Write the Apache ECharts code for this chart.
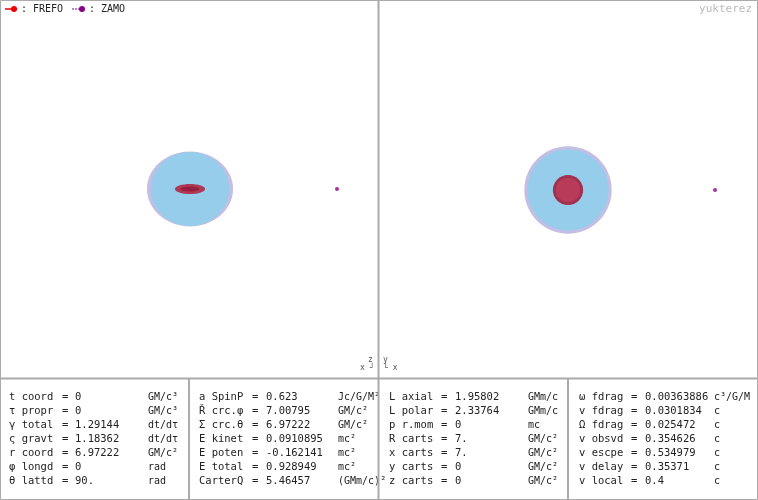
<!DOCTYPE html>
<html><head><meta charset="utf-8">
<script src="https://cdn.jsdelivr.net/npm/echarts@6/dist/echarts.min.js"></script>
<style>html,body{margin:0;padding:0;background:#fff}#c{width:758px;height:500px}</style>
</head><body><div id="c"></div>
<script>
// data
const zamoSide = [[7, 0]];   // x,z
const zamoTop = [[7, 0]];    // x,y
const shapesSide = [ // rx, ry, colour
  [2.05, 1.78, 'rgba(195,190,228,1)'],
  [1.86, 1.76, 'rgba(150,205,235,1)'],
  [0.72, 0.24, 'rgba(175,50,80,0.95)'],
  [0.45, 0.12, 'rgba(150,30,60,0.9)']
];
const shapesTop = [
  [2.08, 2.08, 'rgba(195,190,228,1)'],
  [1.93, 1.93, 'rgba(150,205,235,1)'],
  [0.72, 0.72, 'rgba(160,40,70,0.95)'],
  [0.58, 0.58, 'rgba(185,60,90,0.95)']
];
const col1L = ['t coord','τ propr','γ total','ς gravt','r coord','φ longd','θ lattd'];
const col1V = ['0','0','1.29144','1.18362','6.97222','0','90.'];
const col1U = ['GM/c³','GM/c³','dt/dτ','dt/dτ','GM/c²','rad','rad'];
const col2L = ['a SpinP','Ř crc.φ','Σ crc.θ','E kinet','E poten','E total','CarterQ'];
const col2V = ['0.623','7.00795','6.97222','0.0910895','-0.162141','0.928949','5.46457'];
const col2U = ['Jc/G/M²','GM/c²','GM/c²','mc²','mc²','mc²','(GMm/c)²'];
const col3L = ['L axial','L polar','p r.mom','R carts','x carts','y carts','z carts'];
const col3V = ['1.95802','2.33764','0','7.','7.','0','0'];
const col3U = ['GMm/c','GMm/c','mc','GM/c²','GM/c²','GM/c²','GM/c²'];
const col4L = ['ω fdrag','v fdrag','Ω fdrag','v obsvd','v escpe','v delay','v local'];
const col4V = ['0.00363886','0.0301834','0.025472','0.354626','0.534979','0.35371','0.4'];
const col4U = ['c³/G/M','c','c','c','c','c','c'];

const font = 'DejaVu Sans Mono';
const txtCol = '#222';
const g = [];
function addCol(x, ex, vx, ux, L, V, U){
  for(let i=0;i<7;i++){
    const y = 397 + i*14;
    g.push({type:'text', x:x, y:y, style:{text:L[i], font:'10.5px '+font, fill:txtCol, verticalAlign:'middle'}});
    g.push({type:'text', x:ex, y:y, style:{text:'=', font:'10.5px '+font, fill:txtCol, verticalAlign:'middle'}});
    g.push({type:'text', x:vx, y:y, style:{text:V[i], font:'10.5px '+font, fill:txtCol, verticalAlign:'middle'}});
    g.push({type:'text', x:ux, y:y, style:{text:U[i], font:'10px '+font, fill:txtCol, verticalAlign:'middle'}});
  }
}
addCol(9,62,75,148,col1L,col1V,col1U);
addCol(199,252,266,338,col2L,col2V,col2U);
addCol(389,441,455,528,col3L,col3V,col3U);
addCol(579,631,645,714,col4L,col4V,col4U);
const lc = '#aaa';
g.push({type:'rect', shape:{x:0.5,y:0.5,width:757,height:499}, style:{fill:'none',stroke:lc,lineWidth:1}});
g.push({type:'line', shape:{x1:378.5,y1:0,x2:378.5,y2:500}, style:{stroke:lc,lineWidth:2}});
g.push({type:'line', shape:{x1:0,y1:378.5,x2:758,y2:378.5}, style:{stroke:lc,lineWidth:2}});
g.push({type:'line', shape:{x1:189,y1:379,x2:189,y2:500}, style:{stroke:lc,lineWidth:2}});
g.push({type:'line', shape:{x1:568,y1:379,x2:568,y2:500}, style:{stroke:lc,lineWidth:2}});
g.push({type:'text', right:6, top:4, style:{text:'yukterez', font:'11px '+font, fill:'#bbb'}});
// legend
g.push({type:'line', shape:{x1:5,y1:9,x2:17,y2:9}, style:{stroke:'#e00',lineWidth:1.5}});
g.push({type:'circle', shape:{cx:14,cy:9,r:3}, style:{fill:'#e00'}});
g.push({type:'text', left:21, top:4, style:{text:': FREFO', font:'10px '+font, fill:'#222'}});
g.push({type:'line', shape:{x1:72,y1:9,x2:80,y2:9}, style:{stroke:'#808',lineWidth:1,lineDash:[2,1]}});
g.push({type:'circle', shape:{cx:82,cy:9,r:3}, style:{fill:'#808'}});
g.push({type:'text', left:89, top:4, style:{text:': ZAMO', font:'10px '+font, fill:'#222'}});
// axis glyphs
g.push({type:'text', left:368, top:356, style:{text:'z', font:'8px '+font, fill:'#555'}});
g.push({type:'text', left:360, top:364, style:{text:'x ┘', font:'8px '+font, fill:'#555'}});
g.push({type:'text', left:383, top:356, style:{text:'y', font:'8px '+font, fill:'#555'}});
g.push({type:'text', left:383, top:364, style:{text:'└ x', font:'8px '+font, fill:'#555'}});

function ell(shapes){
  return function(params, api){
    const i = params.dataIndex;
    const c = api.coord([0,0]);
    const p = api.coord([shapes[i][0], shapes[i][1]]);
    return {type:'ellipse', shape:{cx:c[0],cy:c[1],rx:Math.abs(p[0]-c[0]),ry:Math.abs(p[1]-c[1])}, style:{fill:shapes[i][2]}};
  };
}
const ax = (gi)=>({type:'value', min:-9, max:9, show:false, gridIndex:gi});
const chart = echarts.init(document.getElementById('c'));
chart.setOption({
  animation:false,
  grid:[{left:1,top:0,width:378,height:378},{left:379,top:1,width:378,height:378}],
  xAxis:[ax(0),ax(1)], yAxis:[ax(0),ax(1)],
  series:[
    {type:'custom', xAxisIndex:0, yAxisIndex:0, data:shapesSide.map(()=>[0,0]), renderItem:ell(shapesSide)},
    {type:'custom', xAxisIndex:1, yAxisIndex:1, data:shapesTop.map(()=>[0,0]), renderItem:ell(shapesTop)},
    {type:'scatter', xAxisIndex:0, yAxisIndex:0, data:zamoSide, symbolSize:4, itemStyle:{color:'#808'}},
    {type:'scatter', xAxisIndex:1, yAxisIndex:1, data:zamoTop, symbolSize:4, itemStyle:{color:'#808'}}
  ],
  graphic:g
});
</script></body></html>
